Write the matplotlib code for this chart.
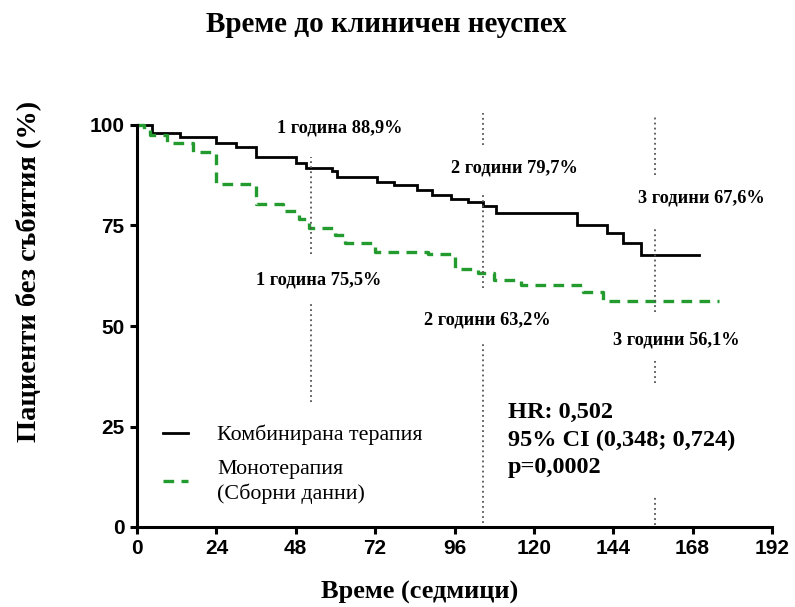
import matplotlib
matplotlib.use("Agg")
import matplotlib.pyplot as plt

# ---- data ----
combo_weeks = [0, 4.5, 13, 24, 30, 36, 48, 51, 59, 60.5, 72.6, 77.6, 84.7, 89.3, 94.8,
               100, 104.5, 108.5, 133, 142, 147, 152.4, 170]
combo_surv = [100, 98, 97.1, 95.4, 94.6, 92.0, 90.5, 89.3, 88.5, 87.0, 85.9, 85.1, 83.8, 82.6, 81.7,
              80.9, 79.8, 78.0, 75.1, 73.2, 70.7, 67.7, 67.7]

mono_weeks = [0, 2, 4, 9, 17, 24, 36, 44, 49, 52, 60, 63, 72, 88, 96, 103, 108, 116, 135, 141, 176]
mono_surv = [100, 99, 97.5, 95.6, 93.3, 85.3, 80.3, 78.5, 76.5, 74.5, 72.6, 70.6, 68.4, 67.9, 64.3,
             63.3, 61.4, 60.2, 58.5, 56.2, 56.2]

year_weeks = [52.5, 104.5, 156.5]
# dotted guide segments per year (ymin, ymax)
guide_segments = [
    [(68, 92), (31, 56)],
    [(95, 103), (59.5, 83.3), (1, 45.8)],
    [(87.6, 102.5), (53.5, 74.4), (35.8, 42), (0.5, 8)],
]

ann_texts = ["1 година 88,9%", "1 година 75,5%", "2 години 79,7%",
             "3 години 67,6%", "2 години 63,2%", "3 години 56,1%"]
ann_x = [61.4, 55, 114, 170.5, 106, 163]
ann_y = [99.3, 61.4, 89.3, 81.8, 51.5, 46.5]

stats_lines = ["HR: 0,502", "95% CI (0,348; 0,724)", "p=0,0002"]
stats_y = [28.6, 21.6, 14.7]
stats_x = 112.2

x_ticks = [0, 24, 48, 72, 96, 120, 144, 168, 192]
y_ticks = [0, 25, 50, 75, 100]

labels = ["Комбинирана терапия", "Монотерапия\n(Сборни данни)"]
title = "Време до клиничен неуспех"
xlabel = "Време (седмици)"
ylabel = "Пациенти без събития (%)"

# ---- plot ----
serif = ["Liberation Serif", "DejaVu Serif"]
sans = ["Liberation Sans", "DejaVu Sans"]

fig = plt.figure(figsize=(7.95, 6.07), dpi=100)
ax = fig.add_axes([137 / 795, 80 / 607, 635 / 795, 402 / 607])

green = "#239b2f"
l1, = ax.plot(combo_weeks, combo_surv, drawstyle="steps-post", color="black", lw=2.0,
              clip_on=False, solid_joinstyle="miter")
l2, = ax.plot(mono_weeks, mono_surv, drawstyle="steps-post", color=green, lw=2.4,
              linestyle=(0, (3.2, 2.2)), clip_on=False)

for xw, segs in zip(year_weeks, guide_segments):
    for lo, hi in segs:
        ax.vlines(xw, lo, hi, colors="#555555", linestyles=(0, (1, 1.8)), lw=1.3, clip_on=False)

for t, x, y in zip(ann_texts, ann_x, ann_y):
    ax.text(x, y, t, ha="center", va="center", fontsize=13.2, fontweight="bold", family=serif)

for t, y in zip(stats_lines, stats_y):
    ax.text(stats_x, y, t, ha="left", va="center", fontsize=17.5, fontweight="bold", family=serif)

leg = ax.legend([l1, l2], labels, loc="upper left", bbox_to_anchor=(0.01, 0.303),
                frameon=False, prop={"family": serif, "size": 15.8},
                handlelength=1.15, handletextpad=1.3, labelspacing=0.65)
for txt in leg.get_texts():
    txt.set_linespacing(1.3)

ax.set_xlim(0, 192)
ax.set_ylim(0, 100)
ax.set_xticks(x_ticks)
ax.set_yticks(y_ticks)
for s in ["top", "right"]:
    ax.spines[s].set_visible(False)
for s in ["left", "bottom"]:
    ax.spines[s].set_linewidth(2.2)
ax.tick_params(direction="out", width=2.2, length=5, pad=4)
for lab in ax.get_xticklabels() + ax.get_yticklabels():
    lab.set_family(sans)
    lab.set_fontweight("bold")
    lab.set_fontsize(15)

fig.text(386 / 795, 1 - 24 / 607, title, ha="center", va="center", fontsize=21,
         fontweight="bold", family=serif)
fig.text(420 / 795, 1 - 592 / 607, xlabel, ha="center", va="center", fontsize=19,
         fontweight="bold", family=serif)
fig.text(28 / 795, 1 - 271 / 607, ylabel, ha="center", va="center", rotation=90,
         fontsize=20.5, fontweight="bold", family=serif)

fig.savefig("out.png", dpi=100)
